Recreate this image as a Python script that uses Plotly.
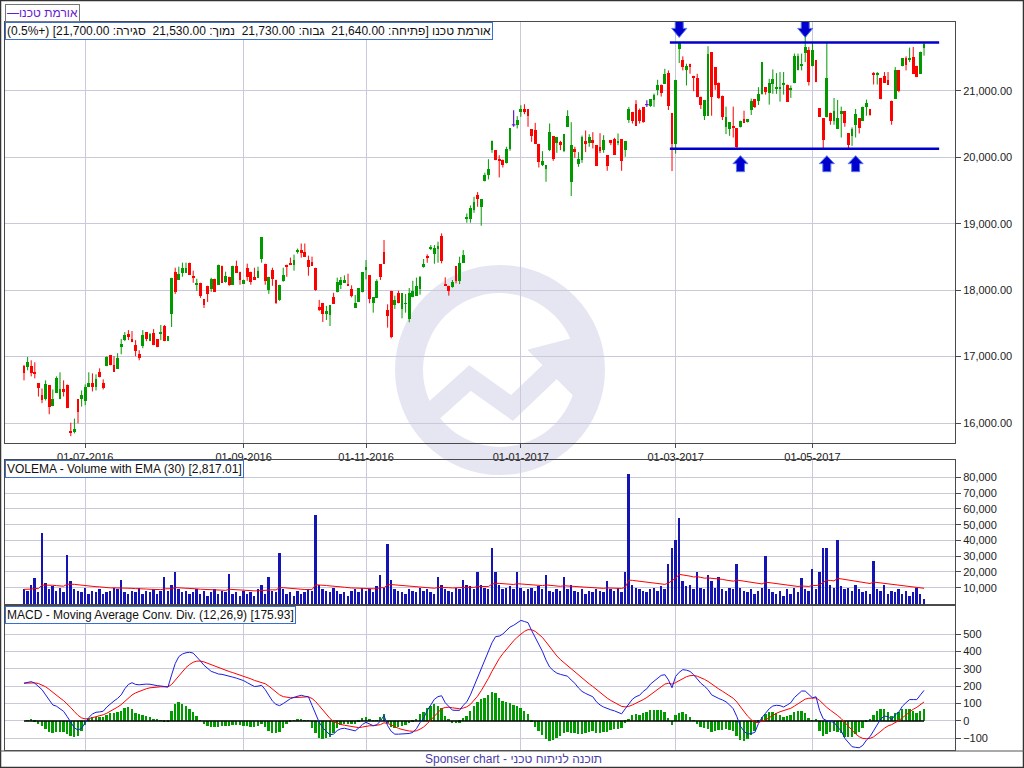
import numpy as np
import pandas as pd
import plotly.graph_objects as go

# ------------------------------------------------------------------ data
STOCK_NAME = "אורמת טכנו"
START_DATE = "2016-06-07"
HOLIDAYS = ["2016-06-12", "2016-10-02", "2016-10-03", "2016-10-04", "2016-10-11",
            "2016-10-12", "2016-10-16", "2016-10-17", "2016-10-23", "2016-10-24",
            "2017-04-10", "2017-04-11", "2017-04-12", "2017-04-16", "2017-04-17",
            "2017-05-02", "2017-05-31"]

OPEN = [16854, 16843, 16854, 16763, 16596, 16429, 16364, 16566, 16253, 16450,
        16359, 16505, 16566, 15884, 15859, 16354, 16354, 16338, 16540, 16596,
        16535, 16763, 16596, 16854, 17020, 16869, 16813, 17141, 17248, 17338,
        17263, 17172, 17035, 17157, 17369, 17232, 17354, 17263, 17338, 17460,
        17232, 17641, 18278, 18157, 18263, 18263, 18414, 18217, 18086, 18111,
        17869, 18066, 18020, 18172, 18081, 18369, 18126, 18202, 18081, 18369,
        18278, 18096, 18338, 18278, 18202, 18187, 18475, 18399, 18005, 18308,
        18157, 17854, 18141, 18384, 18414, 18384, 18581, 18611, 18581, 18460,
        18429, 18338, 17747, 17808, 17641, 17626, 17899, 17967, 18082, 18112,
        18092, 18012, 17737, 17827, 17977, 18303, 18228, 17802, 17887, 18393,
        18569, 17701, 17992, 17777, 17957, 17717, 17792, 17566, 17892, 17912,
        18017, 18348, 18519, 18629, 18544, 18624, 18815, 18092, 18067, 18047,
        18363, 18143, 18413, 19080, 19075, 19205, 19431, 19245, 19647, 19727,
        20108, 20103, 19967, 19967, 19917, 20118, 20489, 20489, 20684, 20734,
        20724, 20424, 20409, 20203, 19882, 19817, 20108, 20318, 20208, 20228,
        20088, 20459, 19631, 20128, 19897, 19957, 20243, 20208, 20258, 20183,
        20153, 20108, 20032, 20258, 20273, 20208, 20273, 20108, 20559, 20684,
        20810, 20709, 20754, 20794, 20774, 20860, 21015, 21096, 21106, 21268,
        20667, 20197, 21636, 21470, 21308, 21409, 21227, 21197, 20914, 20626,
        20626, 21581, 21359, 21126, 20929, 20460, 20419, 20470, 20439, 20450,
        20571, 20525, 20712, 20874, 20854, 20955, 21056, 20965, 21106, 21025,
        21025, 21096, 21096, 21025, 21116, 21308, 21369, 21571, 21611, 21369,
        21460, 20742, 20591, 20601, 20672, 20551, 20424, 20652, 20692, 20364,
        20323, 20490, 20591, 20551, 20763, 20727, 21268, 21242, 21197, 21227,
        21157, 20854, 20884, 21308, 21379, 21500, 21460, 21505, 21379, 21258,
        21640]

HIGH = [16874, 16995, 16944, 16914, 16596, 16520, 16642, 16566, 16505, 16702,
        16763, 16642, 16581, 16005, 16066, 16354, 16490, 16581, 16763, 16748,
        16733, 16823, 16657, 17005, 17020, 17005, 17051, 17263, 17369, 17399,
        17384, 17248, 17096, 17399, 17369, 17354, 17414, 17263, 17475, 17475,
        17308, 18187, 18338, 18353, 18414, 18414, 18414, 18293, 18172, 18111,
        17869, 18066, 18187, 18172, 18384, 18369, 18278, 18202, 18369, 18444,
        18278, 18157, 18399, 18278, 18338, 18353, 18793, 18399, 18202, 18338,
        18157, 18081, 18338, 18384, 18490, 18535, 18626, 18702, 18702, 18520,
        18505, 18338, 17854, 17808, 17763, 17778, 17960, 18188, 18198, 18223,
        18248, 18072, 17927, 18032, 18273, 18453, 18228, 17897, 18163, 18393,
        18754, 17787, 17992, 17917, 17992, 17957, 17942, 18032, 18142, 18188,
        18213, 18469, 18539, 18679, 18679, 18729, 18855, 18193, 18067, 18153,
        18363, 18504, 18604, 19155, 19275, 19406, 19476, 19371, 19767, 19972,
        20253, 20103, 20032, 19967, 20158, 20439, 20709, 20619, 20784, 20799,
        20724, 20424, 20519, 20203, 20093, 19882, 20509, 20318, 20308, 20248,
        20353, 20709, 20529, 20158, 20078, 20328, 20404, 20348, 20378, 20183,
        20363, 20333, 20032, 20258, 20293, 20358, 20273, 20243, 20759, 20684,
        20860, 20734, 20754, 20860, 20875, 20960, 21167, 21096, 21333, 21308,
        20667, 21167, 21732, 21520, 21409, 21409, 21227, 21258, 20914, 20864,
        21672, 21581, 21359, 21126, 20929, 20763, 20525, 20763, 20439, 20551,
        20702, 20571, 20884, 20874, 21056, 21429, 21056, 21182, 21323, 21268,
        21283, 21283, 21096, 21081, 21561, 21561, 21561, 21823, 21662, 21732,
        21460, 20742, 20591, 21732, 20672, 20894, 20864, 20763, 20692, 20364,
        20450, 20727, 20591, 20763, 20869, 20727, 21283, 21283, 21197, 21283,
        21283, 20854, 21359, 21308, 21490, 21520, 21651, 21661, 21379, 21590,
        21730]

LOW = [16642, 16793, 16702, 16672, 16399, 16298, 16339, 16132, 16253, 16450,
       16359, 16399, 16223, 15803, 15844, 15995, 16248, 16268, 16540, 16475,
       16490, 16687, 16505, 16854, 16869, 16768, 16813, 17035, 17232, 17248,
       17217, 17005, 16944, 17126, 17232, 17232, 17172, 17141, 17248, 17232,
       17232, 17445, 17944, 18157, 18202, 18263, 18232, 18111, 17990, 17884,
       17732, 17823, 17975, 17975, 18081, 18111, 18111, 18066, 18081, 18263,
       18081, 18096, 18141, 18081, 18157, 18187, 18414, 18081, 17944, 18066,
       17793, 17839, 18126, 18202, 18384, 18293, 18550, 18490, 18505, 18217,
       18369, 17990, 17687, 17520, 17551, 17460, 17793, 17967, 18017, 18112,
       18067, 17892, 17737, 17827, 17967, 18163, 17802, 17661, 17887, 18153,
       18398, 17436, 17275, 17717, 17802, 17576, 17661, 17516, 17892, 17912,
       17932, 18338, 18413, 18604, 18398, 18413, 18403, 18067, 17917, 18037,
       18102, 18092, 18413, 19015, 19015, 19165, 19255, 18970, 19637, 19667,
       20068, 19957, 19697, 19847, 19907, 20098, 20459, 20434, 20609, 20649,
       20459, 20233, 20203, 19847, 19867, 19631, 20093, 19947, 20068, 20108,
       20078, 20459, 19416, 19992, 19857, 19917, 20078, 20158, 20133, 19867,
       20063, 20068, 19797, 20183, 20042, 20183, 19797, 20007, 20519, 20509,
       20474, 20509, 20519, 20759, 20759, 20759, 20934, 20914, 21106, 20712,
       19793, 20056, 21419, 21308, 21081, 21258, 20995, 20904, 20727, 20561,
       20626, 20626, 21015, 20879, 20561, 20349, 20323, 20298, 20140, 20450,
       20515, 20525, 20637, 20742, 20788, 20944, 20944, 20793, 20955, 20955,
       20838, 20944, 20838, 20894, 21116, 21308, 21308, 21434, 21081, 21369,
       21131, 20611, 20131, 20601, 20490, 20490, 20424, 20298, 20460, 20136,
       20172, 20298, 20359, 20551, 20626, 20626, 21096, 21096, 20874, 21126,
       21096, 20490, 20879, 20980, 21369, 21308, 21434, 21258, 21207, 21258,
       21530]

CLOSE = [16753, 16914, 16753, 16738, 16525, 16349, 16581, 16238, 16354, 16672,
         16505, 16460, 16233, 15844, 15914, 16162, 16429, 16535, 16596, 16540,
         16657, 16687, 16520, 16990, 16869, 16768, 16975, 17187, 17323, 17308,
         17217, 17081, 16975, 17323, 17263, 17338, 17172, 17141, 17369, 17232,
         17308, 18187, 17975, 18248, 18338, 18338, 18232, 18177, 18111, 17914,
         17778, 17944, 18172, 17975, 18384, 18111, 18217, 18081, 18369, 18263,
         18157, 18157, 18202, 18126, 18157, 18293, 18793, 18141, 18202, 18172,
         17808, 18081, 18232, 18354, 18384, 18460, 18611, 18566, 18505, 18354,
         18369, 18005, 17702, 17641, 17687, 17778, 17793, 18122, 18148, 18148,
         18077, 17917, 17812, 18032, 18273, 18348, 17872, 17897, 18143, 18203,
         18398, 17616, 17300, 17852, 17802, 17957, 17802, 17957, 17982, 18057,
         18198, 18393, 18479, 18644, 18634, 18664, 18439, 18067, 17992, 18122,
         18143, 18413, 18534, 19095, 19235, 19326, 19376, 19371, 19727, 19817,
         20253, 19967, 19947, 19877, 20118, 20439, 20489, 20559, 20734, 20684,
         20619, 20323, 20203, 19932, 19942, 19882, 20378, 19972, 20303, 20188,
         20353, 20629, 20183, 20083, 19977, 20308, 20203, 20303, 20208, 19867,
         20093, 20258, 19867, 20208, 20042, 20248, 19942, 20243, 20724, 20544,
         20474, 20544, 20534, 20794, 20875, 20935, 21096, 20965, 21258, 20778,
         20197, 21167, 21722, 21359, 21369, 21359, 21197, 20904, 20793, 20864,
         21550, 20904, 21096, 20894, 20611, 20601, 20525, 20450, 20157, 20551,
         20515, 20571, 20854, 20753, 20955, 21429, 20990, 21126, 21177, 21066,
         21066, 21116, 20838, 21045, 21520, 21520, 21409, 21662, 21141, 21611,
         21131, 20611, 20263, 21197, 20551, 20702, 20586, 20702, 20510, 20187,
         20424, 20652, 20434, 20763, 20818, 20641, 21242, 21268, 20874, 21126,
         21096, 20540, 21308, 20995, 21490, 21389, 21500, 21258, 21207, 21590,
         21700]

VOLUME = [9000, 8000, 12000, 16000, 7000, 45000, 13000, 9000, 11000, 8000,
          10000, 7000, 31000, 14000, 9000, 8000, 7000, 10000, 6000, 8000,
          7000, 9000, 6000, 7000, 8000, 10000, 9000, 15000, 7000, 6000,
          8000, 7000, 10000, 6000, 8000, 7000, 9000, 6000, 8000, 17000,
          8000, 12000, 20000, 9000, 7000, 8000, 6000, 7000, 9000, 6000,
          8000, 5000, 7000, 9000, 6000, 8000, 7000, 19000, 6000, 7000,
          5000, 8000, 6000, 7000, 5000, 9000, 12000, 6000, 17000, 8000,
          7000, 32000, 9000, 6000, 7000, 5000, 8000, 6000, 7000, 9000,
          8000, 56000, 12000, 9000, 8000, 7000, 10000, 8000, 6000, 7000,
          5000, 8000, 9000, 7000, 10000, 8000, 9000, 7000, 11000, 18000,
          10000, 38000, 15000, 9000, 8000, 7000, 6000, 9000, 8000, 7000,
          10000, 8000, 9000, 7000, 6000, 17000, 12000, 9000, 8000, 7000,
          10000, 9000, 15000, 12000, 11000, 9000, 20000, 12000, 10000, 9000,
          35000, 20000, 12000, 9000, 10000, 11000, 9000, 20000, 10000, 8000,
          9000, 10000, 8000, 11000, 9000, 18000, 8000, 7000, 9000, 8000,
          17000, 9000, 12000, 8000, 7000, 9000, 6000, 8000, 7000, 9000,
          8000, 7000, 14000, 9000, 8000, 10000, 7000, 20000, 82000, 12000,
          10000, 9000, 8000, 7000, 9000, 10000, 8000, 11000, 9000, 25000,
          35000, 40000, 54000, 14000, 11000, 12000, 9000, 20000, 10000, 9000,
          18000, 14000, 10000, 17000, 9000, 8000, 10000, 9000, 25000, 10000,
          8000, 7000, 9000, 6000, 8000, 10000, 30000, 9000, 7000, 6000,
          8000, 5000, 9000, 6000, 10000, 7000, 16000, 9000, 8000, 22000,
          9000, 20000, 35000, 35000, 12000, 10000, 40000, 11000, 9000, 10000,
          8000, 12000, 9000, 7000, 8000, 6000, 27000, 9000, 8000, 12000,
          6000, 8000, 7000, 9000, 6000, 8000, 5000, 7000, 10000, 6000,
          2817.01]

MACD = [217, 222, 226, 217, 200, 180, 150, 120, 92, 85,
        70, 55, 25, -10, -40, -52, -42, -10, 20, 40,
        50, 52, 56, 80, 100, 115, 130, 150, 185, 210,
        220, 210, 208, 211, 212, 211, 205, 203, 201, 196,
        195, 265, 330, 370, 385, 392, 395, 390, 370, 345,
        320, 300, 285, 278, 270, 268, 264, 258, 252, 246,
        240, 232, 220, 208, 198, 200, 205, 180, 145, 115,
        95, 88, 100, 115, 128, 136, 142, 148, 142, 139,
        90, 40, -8, -40, -60, -80, -75, -55, -45, -42,
        -47, -52, -57, -40, -20, -8, -20, -27, -22, 0,
        31, -27, -60, -76, -76, -76, -76, -72, -66, -45,
        -10, 15, 60, 95, 125, 140, 145, 105, 85, 62,
        61, 61, 90, 110, 150, 200, 250, 300, 340, 395,
        450, 485, 488, 500, 520, 540, 550, 565, 578, 572,
        565, 520, 480, 441, 400, 350, 310, 290, 275, 268,
        263, 257, 235, 217, 190, 170, 158, 148, 139, 110,
        92, 80, 70, 64, 58, 50, 41, 70, 95, 125,
        140, 148, 170, 185, 212, 230, 246, 262, 266, 236,
        191, 256, 280, 295, 292, 285, 266, 240, 217, 200,
        180, 150, 138, 129, 121, 110, 92, 70, 25, -30,
        -60, -76, -72, -66, -15, 20, 45, 70, 86, 90,
        88, 80, 92, 105, 135, 155, 172, 172, 150, 133,
        139, 60, 12, 2, -3, -8, -35, -57, -100, -125,
        -148, -152, -154, -140, -110, -90, -57, -20, 12, 28,
        25, 8, 35, 51, 85, 105, 123, 123, 123, 150,
        175.93]

TICK_MONTHS = ["2016-07-01", "2016-09-01", "2016-11-01", "2017-01-01", "2017-03-01", "2017-05-01"]
PRICE_TICKS = [16000, 17000, 18000, 19000, 20000, 21000]
VOLUME_TICKS = [10000, 20000, 30000, 40000, 50000, 60000, 70000, 80000]
MACD_TICKS = [-100, 0, 100, 200, 300, 400, 500]

SR_LEVELS = [21730, 20130]
SR_START = "2017-02-27"
ARROW_DOWN_DATES = ["2017-03-02", "2017-04-27"]
ARROW_UP_DATES = ["2017-03-27", "2017-05-08", "2017-05-18"]

# ------------------------------------------------------------------ style
W, H = 1024, 768
FONT = "Liberation Sans, Arial, sans-serif"
GREEN = "#009a00"
RED = "#ff0000"
PURPLE = "#6a1ad0"
GRID = "#c9c9dc"
FRAME = "#4a4a4a"
WATER = "#e6e6f2"


def fx(px):
    return px / W


def fy(py):
    return 1 - py / H


o = np.array(OPEN, float)
h = np.array(HIGH, float)
l = np.array(LOW, float)
c = np.array(CLOSE, float)
N = len(c)
xi = np.arange(N)
dates = pd.bdate_range(START_DATE, periods=N, freq="C",
                       weekmask="Sun Mon Tue Wed Thu", holidays=HOLIDAYS)


def idx(d):
    return int(dates.searchsorted(pd.Timestamp(d)))


tickvals = [idx(m) for m in TICK_MONTHS]
ticktext = [pd.Timestamp(m).strftime("%d-%m-%Y") for m in TICK_MONTHS]

up = c > o
dn = c < o
dj = c == o

fig = go.Figure()


def wicks(mask):
    xs, ys = [], []
    for i in np.where(mask)[0]:
        xs += [i, i, None]
        ys += [l[i], h[i], None]
    return xs, ys


for mask, col in ((up, GREEN), (dn, RED)):
    base = np.minimum(o, c)[mask]
    hgt = np.maximum(np.abs(c - o)[mask], 14)
    wx, wy = wicks(mask)
    fig.add_trace(go.Scatter(x=wx, y=wy, mode="lines", line=dict(color=col, width=1),
                             xaxis="x", yaxis="y", hoverinfo="skip", showlegend=False))
    fig.add_trace(go.Bar(x=xi[mask], y=hgt, base=base, width=0.8,
                         marker=dict(color=col, line=dict(width=0)),
                         xaxis="x", yaxis="y", showlegend=False))

# doji candles (open == close) in purple crosses
wx, wy = wicks(dj)
for i in np.where(dj)[0]:
    wx += [i - 0.5, i + 0.5, None]
    wy += [c[i], c[i], None]
fig.add_trace(go.Scatter(x=wx, y=wy, mode="lines", line=dict(color=PURPLE, width=1.2),
                         xaxis="x", yaxis="y", hoverinfo="skip", showlegend=False))

# volume + EMA(30)
vol = pd.Series(VOLUME, dtype=float)
vol_ema = vol.ewm(span=30, adjust=False).mean()
fig.add_trace(go.Bar(x=xi, y=vol, width=0.55, marker=dict(color="#1414b4", line=dict(width=0)),
                     xaxis="x2", yaxis="y2", showlegend=False))
fig.add_trace(go.Scatter(x=xi, y=vol_ema, mode="lines", line=dict(color=RED, width=1),
                         xaxis="x2", yaxis="y2", showlegend=False))

# MACD
macd = pd.Series(MACD, dtype=float)
signal = macd.ewm(span=9, adjust=False).mean()
hist = macd - signal
fig.add_trace(go.Bar(x=xi, y=hist, width=0.5, marker=dict(color=GREEN, line=dict(width=0)),
                     xaxis="x3", yaxis="y3", showlegend=False))
fig.add_trace(go.Scatter(x=[xi[0], xi[-1]], y=[0, 0], mode="lines",
                         line=dict(color="#000000", width=1.5),
                         xaxis="x3", yaxis="y3", showlegend=False, hoverinfo="skip"))
fig.add_trace(go.Scatter(x=xi, y=signal, mode="lines", line=dict(color=RED, width=1),
                         xaxis="x3", yaxis="y3", showlegend=False))
fig.add_trace(go.Scatter(x=xi, y=macd, mode="lines", line=dict(color="#1c1ce0", width=1),
                         xaxis="x3", yaxis="y3", showlegend=False))

# ------------------------------------------------------------------ axes
XR = [-5.28, 258.6]
common_x = dict(range=XR, domain=[fx(5), fx(955)], tickmode="array", tickvals=tickvals,
                ticktext=ticktext, showgrid=True, gridcolor=GRID, gridwidth=1,
                zeroline=False, showline=True, linecolor=FRAME, linewidth=1, mirror=True,
                fixedrange=True)
common_y = dict(side="right", showgrid=True, gridcolor=GRID, gridwidth=1, zeroline=False,
                showline=True, linecolor=FRAME, linewidth=1, mirror=True, ticks="outside",
                ticklen=5, tickcolor=FRAME, tickfont=dict(size=11, color="#222222", family=FONT),
                tickmode="array", fixedrange=True)

fig.update_layout(
    width=W, height=H, margin=dict(l=0, r=0, t=0, b=0),
    paper_bgcolor="white", plot_bgcolor="rgba(0,0,0,0)",
    barmode="overlay", bargap=0, showlegend=False, hovermode=False,
    font=dict(family=FONT, size=12, color="#111111"),
    xaxis=dict(**common_x, anchor="y", ticks="outside", ticklen=4, tickcolor=FRAME,
               tickfont=dict(size=11, color="#222222", family=FONT)),
    xaxis2=dict(**common_x, anchor="y2", showticklabels=False, ticks=""),
    xaxis3=dict(**common_x, anchor="y3", showticklabels=False, ticks=""),
    yaxis=dict(**common_y, anchor="x", domain=[fy(443), fy(22)], range=[15699, 22037],
               tickvals=PRICE_TICKS, tickformat=",.2f"),
    yaxis2=dict(**common_y, anchor="x2", domain=[fy(604), fy(460)], range=[-300, 91000],
                tickvals=VOLUME_TICKS, tickformat=",d"),
    yaxis3=dict(**common_y, anchor="x3", domain=[fy(750), fy(606)], range=[-167, 661],
                tickvals=MACD_TICKS, tickformat="d"),
)

# ------------------------------------------------------------------ shapes
shapes = []
# watermark logo
cx, cy, r = 500, 370, 91
shapes.append(dict(type="circle", xref="paper", yref="paper", layer="below",
                   x0=fx(cx - r), x1=fx(cx + r), y0=fy(cy + r), y1=fy(cy - r),
                   line=dict(color=WATER, width=28), fillcolor="rgba(0,0,0,0)"))


def P(px, py):
    return f"{fx(px):.5f},{fy(py):.5f}"


shapes.append(dict(type="path", xref="paper", yref="paper", layer="below",
                   path=f"M {P(430, 414)} L {P(470, 378)} L {P(512, 408)} L {P(556, 366)}",
                   line=dict(color=WATER, width=20), fillcolor="rgba(0,0,0,0)"))
shapes.append(dict(type="path", xref="paper", yref="paper", layer="below",
                   path=f"M {P(590, 334)} L {P(528, 350)} L {P(574, 396)} Z",
                   line=dict(color=WATER, width=1), fillcolor=WATER))

# support / resistance lines
x_sr0 = idx(SR_START) + 0.4
x_sr1 = N - 1 + 4.2
for lev in SR_LEVELS:
    shapes.append(dict(type="line", xref="x", yref="y", x0=x_sr0, x1=x_sr1, y0=lev, y1=lev,
                       line=dict(color="#0000cc", width=2.5)))

DOWN_PATH = "M 0,5 L -7.5,14 L -4,14 L -4,21 L 4,21 L 4,14 L 7.5,14 Z"
UP_PATH = "M 0,-7 L -7.5,-15 L -4,-15 L -4,-23 L 4,-23 L 4,-15 L 7.5,-15 Z"
for d in ARROW_DOWN_DATES:
    shapes.append(dict(type="path", xref="x", yref="y", xsizemode="pixel", ysizemode="pixel",
                       xanchor=idx(d), yanchor=max(SR_LEVELS), path=DOWN_PATH,
                       fillcolor="#0000cc", line=dict(color="#5577ee", width=1)))
for d in ARROW_UP_DATES:
    shapes.append(dict(type="path", xref="x", yref="y", xsizemode="pixel", ysizemode="pixel",
                       xanchor=idx(d), yanchor=min(SR_LEVELS), path=UP_PATH,
                       fillcolor="#0000cc", line=dict(color="#5577ee", width=1)))

# outer frame and footer separator
shapes.append(dict(type="rect", xref="paper", yref="paper", x0=fx(0.5), x1=fx(1023.5),
                   y0=fy(767.5), y1=fy(0.5), line=dict(color="#333333", width=1.5)))
shapes.append(dict(type="line", xref="paper", yref="paper", x0=0, x1=1, y0=fy(751), y1=fy(751),
                   line=dict(color="#555555", width=1)))
fig.update_layout(shapes=shapes)

# ------------------------------------------------------------------ annotations
RLE, PDF = "\u202b", "\u202c"
pct = (c[-1] - c[-2]) / c[-2] * 100
header = (f"{STOCK_NAME} [פתיחה: {o[-1]:,.2f}  גבוה: {h[-1]:,.2f}  נמוך: {l[-1]:,.2f}  "
          f"סגירה: {c[-1]:,.2f}] ({pct:+.1f}%)")

box = dict(xref="paper", yref="paper", xanchor="left", yanchor="top", showarrow=False,
           bgcolor="white", borderpad=1, borderwidth=1, align="left")
ann = [
    dict(**box, x=fx(5), y=fy(4), bordercolor="#777777",
         text=f"<span style='color:{PURPLE}'>—</span>{RLE}{STOCK_NAME}{PDF}",
         font=dict(size=12, color=PURPLE, family=FONT)),
    dict(**box, x=fx(5), y=fy(22), bordercolor="#3a6fd0",
         text=RLE + header + PDF, font=dict(size=12, color="#111111", family=FONT)),
    dict(**box, x=fx(5), y=fy(460), bordercolor="#3a6fd0",
         text=f"VOLEMA - Volume with EMA (30) [{VOLUME[-1]:,.2f}]",
         font=dict(size=12, color="#111111", family=FONT)),
    dict(**box, x=fx(5), y=fy(606), bordercolor="#3a6fd0",
         text=f"MACD - Moving Average Conv. Div. (12,26,9) [{MACD[-1]:.2f}]",
         font=dict(size=12, color="#111111", family=FONT)),
    dict(xref="paper", yref="paper", x=fx(513), y=fy(759), xanchor="center", yanchor="middle",
         showarrow=False, text="Sponser chart - תוכנה לניתוח טכני",
         font=dict(size=12, color="#4a3ca8", family=FONT)),
]
fig.update_layout(annotations=ann)

fig.write_html("out.html", config={"displayModeBar": False},
               post_script="document.body.style.margin='0';")
